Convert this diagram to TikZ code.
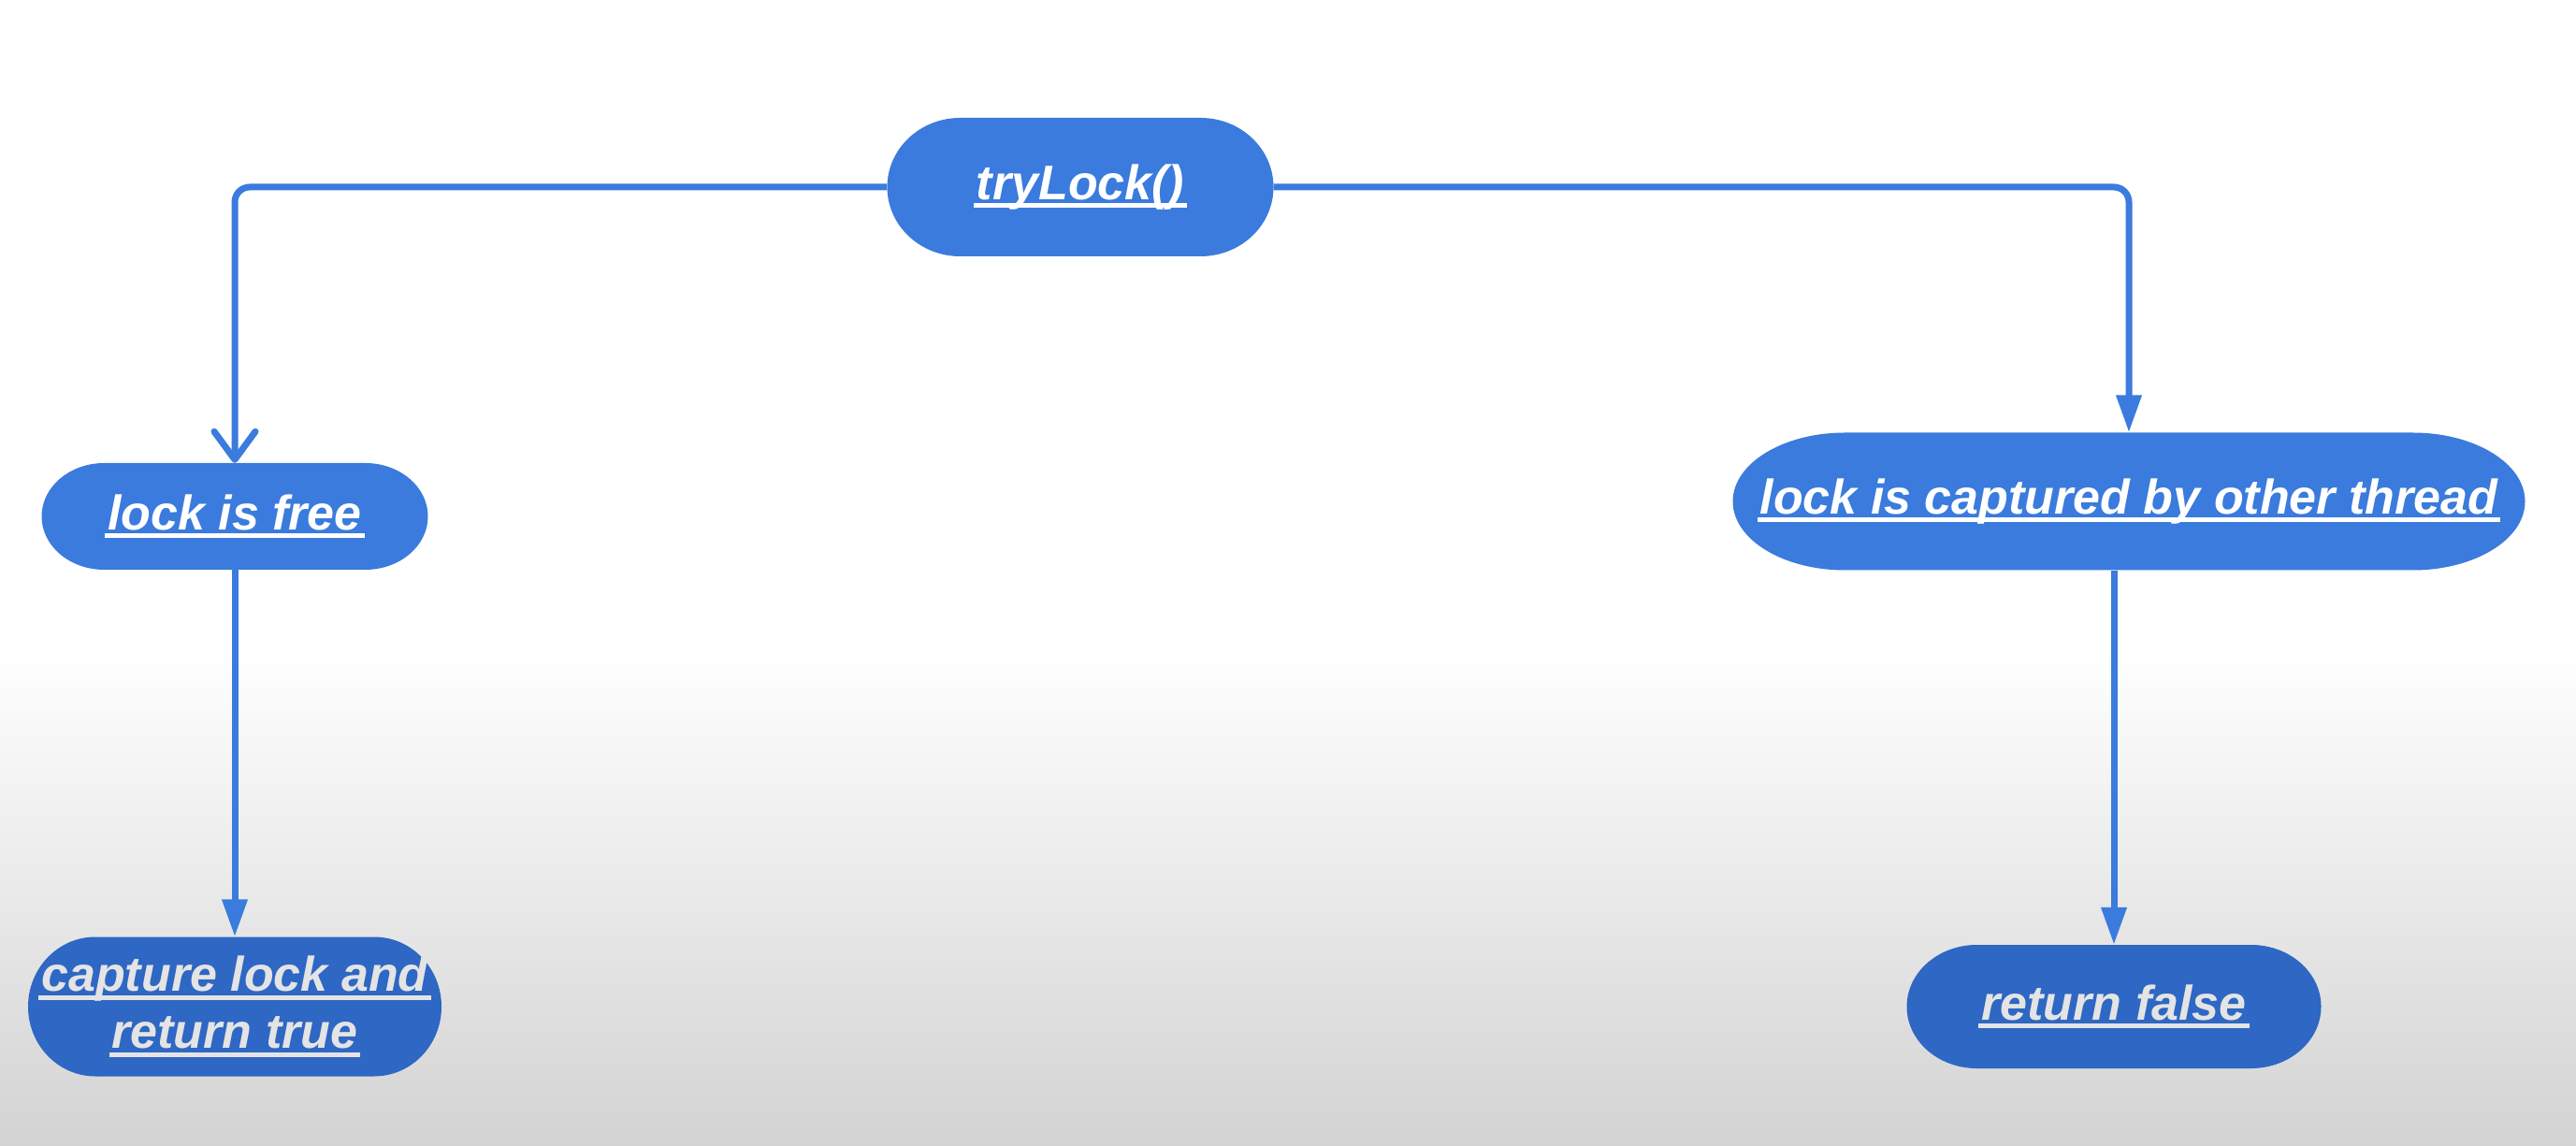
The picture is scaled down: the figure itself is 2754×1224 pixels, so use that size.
\documentclass[tikz,border=0pt]{standalone}
\usepackage{fontspec}
\setmainfont{Liberation Sans}
\usetikzlibrary{arrows.meta}
\definecolor{boxblue}{HTML}{3A7BDD}
\definecolor{boxdark}{HTML}{2E67C4}
\definecolor{linblue}{HTML}{3A7BDD}
\definecolor{bggray}{HTML}{D3D3D3}
\definecolor{txtgray}{HTML}{E4E4E4}
\newcommand{\myul}[1]{\sbox0{#1}\rlap{\kern-3pt\rule[-9pt]{\dimexpr\wd0+6pt\relax}{5pt}}\usebox0}
% \pill[node options]{name}{x}{y}{w}{h}{rx}{fill}{text}
\newcommand{\pill}[9][]{%
  \fill[#8] (#3-#5/2+#7,#4+#6/2) -- (#3+#5/2-#7,#4+#6/2)
     arc[start angle=90,end angle=-90,x radius=#7,y radius=#6/2]
     -- (#3-#5/2+#7,#4-#6/2)
     arc[start angle=270,end angle=90,x radius=#7,y radius=#6/2] -- cycle;
  \node[pilltext,minimum width=#5,minimum height=#6,#1] (#2) at (#3,#4) {#9};
}
\tikzset{
  pilltext/.style={inner sep=0pt, align=center, text=white,
    font=\fontsize{52}{61}\selectfont\bfseries\itshape},
  conn/.style={draw=linblue, line width=7pt, rounded corners=16pt},
  tri/.style={-{Triangle[length=40pt,width=26pt]}},
  barb/.style={-{Straight Barb[length=30pt,width=44pt,line width=7pt,round]}}
}
\begin{document}
\begin{tikzpicture}[x=1pt,y=1pt]
\useasboundingbox (0,0) rectangle (2754,1224);
\fill[white] (0,0) rectangle (2754,1224);
\shade[top color=white, bottom color=bggray] (0,0) rectangle (2754,530);

\pill{try}{1155}{1024}{413}{148}{78}{boxblue}{\myul{tryLock()}}
\pill{free}{251}{672}{413}{114}{67}{boxblue}{\myul{lock is free}}
\pill{captured}{2276}{688}{847}{147}{120}{boxblue}{\myul{lock is captured by other thread}}
\pill[text=txtgray]{cap}{251}{148}{442}{149}{72}{boxdark}{\myul{capture lock and}\\\myul{return true}}
\pill[text=txtgray]{rf}{2260}{148}{443}{132}{75}{boxdark}{\myul{return false}}

\draw[conn, barb] (try.west) -| (free.north);
\draw[conn, tri] (try.east) -| (captured.north);
\draw[conn, tri] (free.south) -- (cap.north);
\draw[conn, tri] (rf.north |- captured.south) -- (rf.north);
\end{tikzpicture}
\end{document}
